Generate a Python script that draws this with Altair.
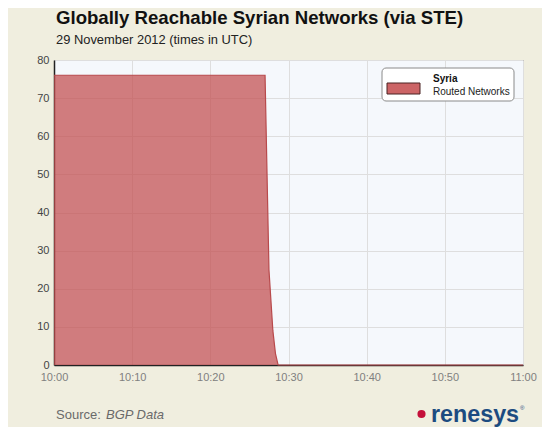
import altair as alt
import pandas as pd

# data
times = ["10:00:00", "10:27:00", "10:27:30", "10:28:00", "10:28:20", "10:28:40", "11:00:00"]
routed = [76, 76, 25, 9, 3, 0, 0]
x_ticks = [0, 10, 20, 30, 40, 50, 60]
y_ticks = [0, 10, 20, 30, 40, 50, 60, 70, 80]

t = pd.to_timedelta(times)
minutes = (t - t[0]).total_seconds() / 60.0
df = pd.DataFrame({"minute": minutes, "routed": routed})

FONT = "Liberation Sans"
W, H = 469, 305

x_enc = alt.X("minute:Q", scale=alt.Scale(domain=[0, 60], nice=False),
              axis=alt.Axis(values=x_ticks,
                            labelExpr="datum.value >= 60 ? '11:00' : '10:' + (datum.value < 10 ? '0' : '') + datum.value",
                            title=None, grid=True, gridColor="#dedede", ticks=False,
                            labelFlush=False, labelOverlap=False,
                            labelColor="#808080", labelFontSize=11, labelPadding=6,
                            labelFont=FONT, domainColor="#222222", domainWidth=1.5))
y_enc = alt.Y("routed:Q", scale=alt.Scale(domain=[0, 80], nice=False),
              axis=alt.Axis(values=y_ticks, title=None, grid=True, gridColor="#dedede",
                            ticks=False, labelColor="#444444", labelFontSize=11,
                            labelFlush=False, labelOverlap=False,
                            labelPadding=5, labelFont=FONT, domainColor="#222222",
                            domainWidth=1.5))

area = alt.Chart(df).mark_area(color="#c24c4e", opacity=0.72,
                               line={"color": "#b84a4c", "strokeWidth": 1.2}).encode(
    x=x_enc, y=y_enc)

one = pd.DataFrame({"k": [0]})

def txt(text, x, y, size, color, weight="normal", style="normal", align="left"):
    return alt.Chart(one).mark_text(font=FONT, fontSize=size, color=color,
                                    fontWeight=weight, fontStyle=style, align=align,
                                    baseline="alphabetic").encode(
        x=alt.value(x), y=alt.value(y), text=alt.value(text))

title = txt("Globally Reachable Syrian Networks (via STE)", 2, -36, 18.6, "#111111", "bold")
subtitle = txt("29 November 2012 (times in UTC)", 2, -16, 12.9, "#222222")

legend_box = alt.Chart(one).mark_rect(fill="white", stroke="#8a8a8a", strokeWidth=1,
                                      cornerRadius=4).encode(
    x=alt.value(328), x2=alt.value(460), y=alt.value(8), y2=alt.value(41))
swatch = alt.Chart(one).mark_rect(fill="#cc6466", stroke="#4a2222", strokeWidth=1).encode(
    x=alt.value(333), x2=alt.value(366), y=alt.value(23), y2=alt.value(34))
leg_t = txt("Syria", 379, 22, 10, "#111111", "bold")
leg_l = txt("Routed Networks", 379, 35, 10, "#222222")

src1 = txt("Source:", 2, 359, 13, "#6a6a6a")
src2 = txt("BGP Data", 52, 359, 13, "#6a6a6a", style="italic")
dot = alt.Chart(one).mark_circle(color="#c4103a", opacity=1, size=66).encode(
    x=alt.value(367.5), y=alt.value(354))
logo = txt("renesys", 377, 362, 23.3, "#1c4b80", "bold")
reg = txt("®", 466, 350, 6, "#1c4b80")

chart = alt.layer(area, title, subtitle, legend_box, swatch, leg_t, leg_l,
                  src1, src2, dot, logo, reg).properties(
    width=W, height=H,
    autosize=alt.AutoSizeParams(type="none"),
    padding={"left": 46, "top": 52, "right": 19, "bottom": 62},
    background="#f0eedf",
).configure_view(fill="#f5f8fc", stroke="#555555", strokeWidth=1)

chart.save("out.html", embed_options={"renderer": "svg", "actions": False})
